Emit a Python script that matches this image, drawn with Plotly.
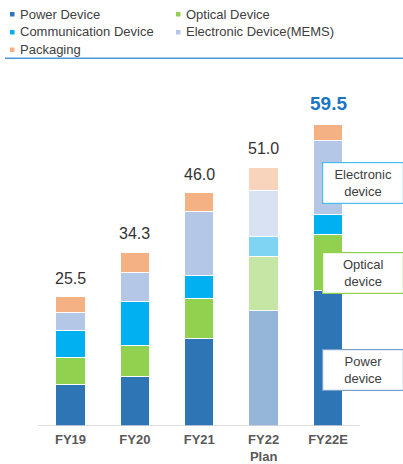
import plotly.graph_objects as go

# Fiscal years shown on the x axis
categories = ["FY19", "FY20", "FY21", "FY22<br>Plan", "FY22E"]

# Segment sales per year (stacked bottom to top)
power_device = [8.1, 9.8, 17.2, 22.7, 26.7]
optical_device = [5.4, 6.1, 7.9, 10.8, 11.0]
communication_device = [5.4, 8.7, 4.6, 3.9, 4.1]
electronic_device = [3.5, 5.6, 12.6, 9.1, 14.5]
packaging = [3.1, 4.1, 3.7, 4.5, 3.2]

# Year totals printed above each bar
totals = [25.5, 34.3, 46.0, 51.0, 59.5]

series_names = ["Power Device", "Optical Device", "Communication Device",
                "Electronic Device(MEMS)", "Packaging"]
series_values = [power_device, optical_device, communication_device,
                 electronic_device, packaging]
solid_colors = ["#2e75b6", "#92d050", "#00b0f0", "#b4c7e7", "#f4b183"]
plan_colors = ["#95b6d9", "#c6e6a6", "#7fd4f4", "#d8e2f3", "#f9d4bd"]
plan_index = 3

W, H = 403, 464
BOTTOM = 38
PLOT_H = H - BOTTOM


def py(p):
    """pixel row (from top) -> paper y"""
    return (PLOT_H - p) / PLOT_H


def px(p):
    return p / W


fig = go.Figure()
xs = list(range(len(categories)))
for name, vals, col, pcol in zip(series_names, series_values, solid_colors, plan_colors):
    colors = [pcol if i == plan_index else col for i in xs]
    fig.add_trace(go.Bar(
        x=xs, y=vals, name=name, width=0.458,
        marker=dict(color=colors, line=dict(color="white", width=1)),
        showlegend=False, hoverinfo="y+name",
    ))

# Colour key in two columns at the top
key_rows = [14, 32, 49.5]
key_cols = [(10, 18), (176, 184)]
for k, (name, col) in enumerate(zip(series_names, solid_colors)):
    r, c = divmod(k, 2)
    sx, tx = key_cols[c]
    yc = key_rows[r]
    fig.add_shape(type="rect", xref="paper", yref="paper",
                  x0=px(sx), x1=px(sx + 4.5), y0=py(yc + 2.5), y1=py(yc - 2),
                  fillcolor=col, line=dict(width=0))
    fig.add_annotation(xref="paper", yref="paper", x=px(tx), y=py(yc),
                       xanchor="left", yanchor="middle", text=name, showarrow=False,
                       font=dict(family="Liberation Sans, Arial", size=13, color="#404040"))

# Rule under the key
fig.add_shape(type="line", xref="paper", yref="paper",
              x0=px(5), x1=1.0, y0=py(58.3), y1=py(58.3),
              line=dict(color="#4a96dc", width=1.5))

# Baseline
fig.add_shape(type="line", xref="x", yref="y", x0=-0.505, x1=4.497, y0=0, y1=0,
              line=dict(color="#d9d9d9", width=1.5))

# Totals above the bars
for i, t in enumerate(totals):
    last = i == len(totals) - 1
    fig.add_annotation(
        x=i, y=t, text=f"{t:.1f}", showarrow=False, yanchor="bottom", yshift=8,
        font=dict(family="Liberation Sans, Arial", size=19 if last else 16,
                  color="#1a75c7" if last else "#333333",
                  weight="bold" if last else "normal"),
    )

# Segment call-outs on the right
callouts = [("Electronic<br>device", 182.8, "#48bde8"),
            ("Optical<br>device", 273.3, "#92d050"),
            ("Power<br>device", 369.7, "#7f9fd0")]
for text, yc, bc in callouts:
    fig.add_annotation(xref="paper", yref="paper", x=px(322), y=py(yc),
                       xanchor="left", yanchor="middle", text=text, showarrow=False,
                       width=78, height=38, align="center", valign="middle",
                       bgcolor="white", bordercolor=bc, borderwidth=1.2, borderpad=1,
                       font=dict(family="Liberation Sans, Arial", size=13, color="#404040"))

x_unit = 64.375
x_left = -70.5 / x_unit
x_right = (W - 70.5) / x_unit
y_unit = 5.07

fig.update_layout(
    width=W, height=H,
    margin=dict(l=0, r=0, t=0, b=BOTTOM),
    barmode="stack",
    plot_bgcolor="white", paper_bgcolor="white",
    xaxis=dict(range=[x_left, x_right], tickvals=xs, ticktext=categories,
               showgrid=False, zeroline=False, showline=False, ticks="",
               ticklabelstandoff=4,
               tickfont=dict(family="Liberation Sans, Arial", size=13,
                             color="#595959", weight="bold")),
    yaxis=dict(range=[0, PLOT_H / y_unit], visible=False, showgrid=False),
    font=dict(family="Liberation Sans, Arial"),
)

fig.write_html("out.html")
